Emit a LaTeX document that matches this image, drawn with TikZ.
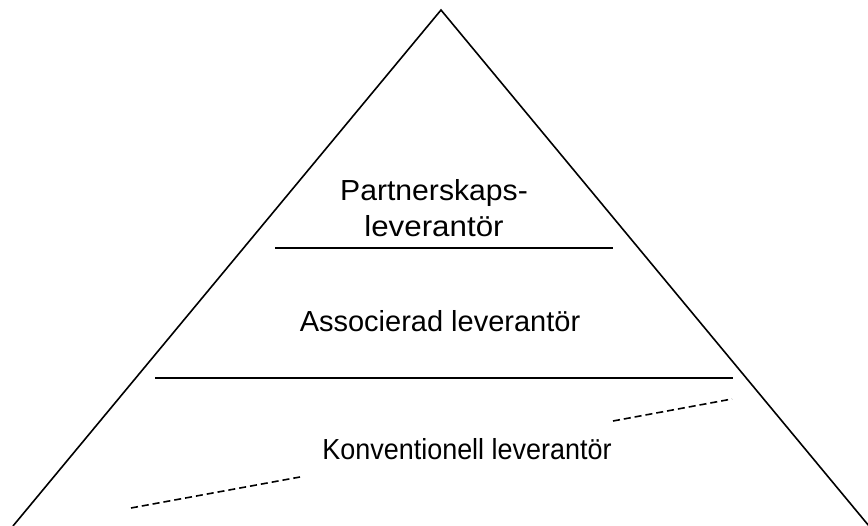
\documentclass[tikz,border=0pt]{standalone}
\usepackage{fontspec}
\setmainfont{Liberation Sans}
\begin{document}
\begin{tikzpicture}[x=1pt,y=-1pt,
  edge/.style={line width=1.6pt,line join=miter},
  sep/.style={line width=1.6pt},
  dash line/.style={line width=1.6pt,dash pattern=on 7pt off 4pt},
  lbl/.style={anchor=base,inner sep=0pt,font=\fontsize{29}{35}\selectfont}]
\useasboundingbox (0,0) rectangle (868,526);
\coordinate (apex) at (441,10);
\coordinate (bl) at (13,526);
\coordinate (br) at (869,526);
\draw[edge] (bl) -- (apex) -- (br);
\coordinate (t1) at (275,248);
\coordinate (t2) at (613,248);
\draw[sep] (t1) -- (t2);
\coordinate (m1) at (155,378);
\coordinate (m2) at (733,378);
\draw[sep] (m1) -- (m2);
\coordinate (d1) at (613,421);
\coordinate (d2) at (732,399);
\draw[dash line] (d1) -- (d2);
\coordinate (d3) at (131,508);
\coordinate (d4) at (300,477);
\draw[dash line] (d3) -- (d4);
\node[lbl,xscale=1.04] (p1) at (434,201) {Partnerskaps-};
\node[lbl,xscale=1.08] (p2) at (434,237) {leverantör};
\node[lbl] (a) at (440,332) {Associerad leverantör};
\node[lbl,xscale=0.93] (k) at (467,460) {Konventionell leverantör};
\end{tikzpicture}
\end{document}
